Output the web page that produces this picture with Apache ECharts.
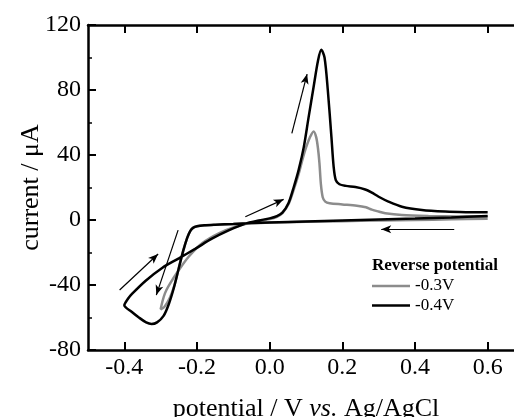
<!DOCTYPE html>
<html>
<head>
<meta charset="utf-8">
<script src="https://cdn.jsdelivr.net/npm/echarts@6.0.0/dist/echarts.min.js"></script>
<style>
html,body{margin:0;padding:0;background:#fff;}
#chart{width:514px;height:417px;}
</style>
</head>
<body>
<div id="chart"></div>
<script>
// ---- data ----
var xTicks = [-0.4, -0.2, 0.0, 0.2, 0.4, 0.6];
var yTicks = [-80, -40, 0, 40, 80, 120];
var seriesNames = ['-0.3V', '-0.4V'];

// reverse potential -0.3 V  (potential V, current µA)
var cv03 = [
  [0.6,0.8],[0.5,0.4],[0.4,0.0],[0.3,-0.3],[0.2,-0.7],[0.1,-1.1],[0.0,-1.6],[-0.05,-2.0],[-0.1,-2.5],
  [-0.15,-3.0],[-0.18,-3.4],[-0.2,-3.9],[-0.212,-5.0],[-0.22,-7.5],[-0.227,-11],[-0.238,-19],[-0.25,-29.5],
  [-0.262,-40],[-0.275,-48],[-0.29,-53.5],[-0.3,-55],
  [-0.295,-50],[-0.288,-45],[-0.278,-40.5],[-0.25,-30.8],[-0.223,-22.6],[-0.186,-14.3],[-0.14,-8.2],
  [-0.094,-4.1],[-0.049,-1.6],[0.0,0.6],[0.02,2.0],[0.035,4.2],[0.052,9.8],[0.066,18.5],[0.08,28.5],
  [0.09,37],[0.1,44.5],[0.11,50.5],[0.121,54.5],[0.128,51],[0.133,44],[0.137,35],[0.141,22],[0.146,14],
  [0.153,11.3],[0.165,10.3],[0.2,9.6],[0.24,8.8],[0.265,7.8],[0.281,6.4],[0.3,5.2],[0.318,4.2],
  [0.364,3.1],[0.437,2.5],[0.52,2.2],[0.6,2.0]
];
// reverse potential -0.4 V
var cv04 = [
  [0.6,2.4],[0.5,1.6],[0.4,0.9],[0.3,0.3],[0.2,-0.3],[0.1,-0.9],[0.0,-1.5],[-0.05,-1.9],[-0.1,-2.4],
  [-0.15,-2.9],[-0.18,-3.3],[-0.2,-3.9],[-0.21,-4.7],[-0.218,-6.5],[-0.227,-11],[-0.238,-19],[-0.25,-29.5],
  [-0.264,-42],[-0.278,-52],[-0.292,-59],[-0.31,-63],[-0.325,-64],[-0.34,-63],[-0.36,-60],[-0.38,-56.5],[-0.4,-52.5],
  [-0.39,-48.5],[-0.379,-45.5],[-0.342,-37.5],[-0.296,-29.5],[-0.25,-23.6],[-0.204,-17.6],[-0.159,-11.5],
  [-0.113,-6.4],[-0.067,-2.2],[-0.03,-0.3],[0.0,1.0],[0.02,2.4],[0.035,4.5],[0.052,10.5],[0.066,20],
  [0.08,31],[0.094,45],[0.107,63],[0.121,82],[0.133,98],[0.142,104.8],[0.151,100],[0.16,80],[0.17,51],
  [0.176,33],[0.182,24.5],[0.192,22],[0.21,21],[0.236,20.3],[0.263,18.8],[0.28,17],[0.3,14.3],
  [0.327,11.3],[0.364,8.2],[0.419,6.2],[0.483,5.2],[0.54,4.8],[0.6,4.7]
];
// sweep-direction arrows: [x start, y start, x end, y end]
var arrows = [
  [-0.413,-43.1,-0.307,-20.9],
  [-0.252,-6.2,-0.312,-46.2],
  [-0.067,2.0,0.0385,12.7],
  [0.061,53.3,0.103,89.8],
  [0.508,-5.7,0.307,-5.7]
];

// ---- chart ----
var FONT = '"Liberation Serif","Times New Roman",serif';
var chart = echarts.init(document.getElementById('chart'), null, {renderer:'canvas'});
var axisLineStyle = {color:'#000', width:2.5};
function xAxisCfg(pos, showLabel){
  return {
    type:'value', position:pos, min:-0.5, max:0.7,
    axisLine:{show:true, onZero:false, lineStyle:axisLineStyle},
    axisTick:{show:true, inside:true, length:8, lineStyle:{color:'#000', width:2}, customValues:xTicks},
    axisLabel:{show:showLabel, customValues:xTicks, margin:6, color:'#000', fontSize:24, fontFamily:FONT,
      formatter:function(v){return v.toFixed(1);}},
    splitLine:{show:false}
  };
}
var xb = xAxisCfg('bottom', true);
xb.name = 'potential / V {i|vs.} Ag/AgCl';
xb.nameLocation = 'middle';
xb.nameGap = 46;
xb.nameMoveOverlap = false;
xb.nameTextStyle = {color:'#000', fontSize:26, fontFamily:FONT,
  rich:{i:{fontStyle:'italic', fontSize:26, fontFamily:FONT, color:'#000'}}};
var xt = xAxisCfg('top', false);

var option = {
  animation:false,
  backgroundColor:'#fff',
  grid:{left:88, top:25, width:436, height:325, containLabel:false, outerBoundsMode:'none'},
  title:{text:'Reverse potential', left:372, top:257, padding:0,
    textStyle:{fontSize:17, fontWeight:'bold', fontFamily:FONT, color:'#000'}},
  legend:{data:seriesNames, orient:'vertical', left:372, top:277.5, padding:0,
    icon:'rect', itemWidth:38, itemHeight:2.5, itemGap:2.5,
    textStyle:{fontSize:17, fontFamily:FONT, color:'#000', lineHeight:17}},
  xAxis:[xb, xt],
  yAxis:[{
    type:'value', min:-80, max:120, interval:40,
    axisLine:{show:true, onZero:false, lineStyle:axisLineStyle},
    axisTick:{show:true, inside:true, length:8, lineStyle:{color:'#000', width:2}},
    minorTick:{show:true, splitNumber:2, length:4, lineStyle:{color:'#000', width:1.5}},
    axisLabel:{margin:7, color:'#000', fontSize:24, fontFamily:FONT},
    splitLine:{show:false},
    name:'current / μA', nameLocation:'middle', nameGap:44, nameMoveOverlap:false,
    nameTextStyle:{color:'#000', fontSize:26, fontFamily:FONT}
  }],
  series:[
    {name:seriesNames[0], type:'line', data:cv03, showSymbol:false, symbol:'none', smooth:0.3,
      lineStyle:{color:'#8c8c8c', width:2.5}, itemStyle:{color:'#8c8c8c'}, z:2},
    {name:seriesNames[1], type:'line', data:cv04, showSymbol:false, symbol:'none', smooth:0.3,
      lineStyle:{color:'#000', width:2.5}, itemStyle:{color:'#000'}, z:3},
    {name:'arrows', type:'line', data:[], z:4,
      markLine:{silent:true, symbol:['none','arrow'], symbolSize:[6,10],
        label:{show:false}, lineStyle:{color:'#000', width:1.2, type:'solid'},
        emphasis:{disabled:true},
        data:arrows.map(function(a){return [{coord:[a[0],a[1]]},{coord:[a[2],a[3]]}];})}}
  ]
};
chart.setOption(option);
</script>
</body>
</html>
